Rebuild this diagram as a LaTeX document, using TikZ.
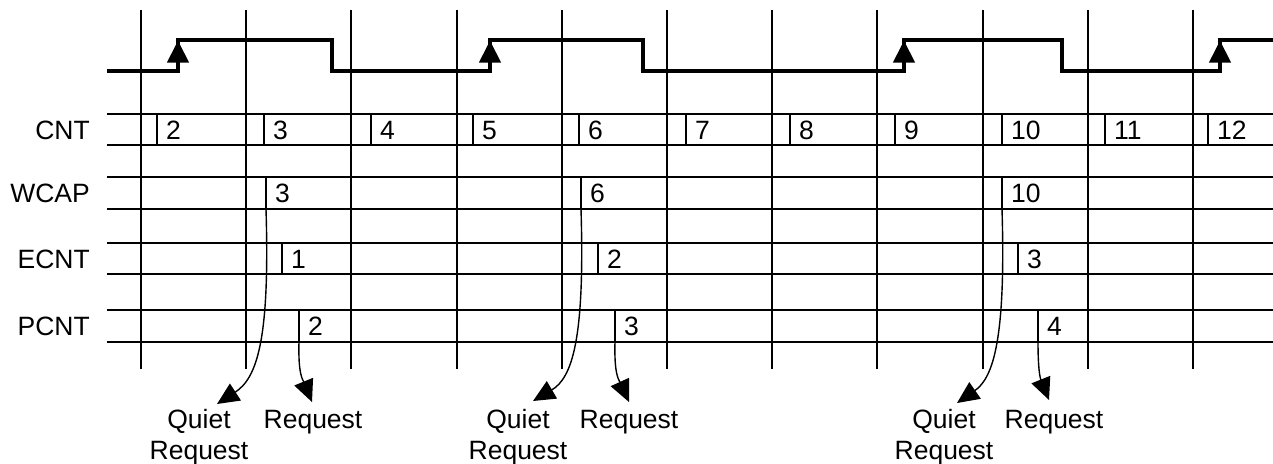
\documentclass[tikz,border=0pt]{standalone}
\usepackage{fontspec}
\setmainfont{Liberation Sans}
\usetikzlibrary{arrows.meta,calc}
\begin{document}
\begin{tikzpicture}[x=1pt,y=-1pt,
  gridline/.style={line width=2pt},
  wave/.style={line width=4pt, line join=miter},
  clktip/.style={-{Triangle[length=22pt,width=21pt]}, line width=4pt},
  sepline/.style={line width=2pt},
  flow/.style={line width=1.4pt, -{Triangle[length=22pt,width=20pt]}},
  lbl/.style={font=\fontsize{26.5}{31}\selectfont, inner sep=0pt},
]
\useasboundingbox (0,0) rectangle (1273,463);
% clock grid
\foreach \k in {0,...,10}
  \draw[gridline] ({141+105.2*\k},10) -- ({141+105.2*\k},369);
% bus row lines
\foreach \y in {114,145,177,209,243,274,310,342}
  \draw[gridline] (107,\y) -- (1273,\y);
% clock waveform
\draw[wave] (107,71) -- (178,71) -- (178,40) -- (332,40) -- (332,71) -- (490,71)
  -- (490,40) -- (643,40) -- (643,71) -- (904,71) -- (904,40) -- (1062,40)
  -- (1062,71) -- (1220,71) -- (1220,40) -- (1273,40);
\foreach \x in {178,490,904,1220}
  \draw[clktip] (\x,71) -- (\x,40.5);
% row labels
\node[lbl, anchor=base east] (lcnt) at (90,139.5) {CNT};
\node[lbl, anchor=base east] (lwcap) at (90,202.5) {WCAP};
\node[lbl, anchor=base east] (lecnt) at (90,268) {ECNT};
\node[lbl, anchor=base east] (lpcnt) at (90,335.5) {PCNT};
% CNT values
\foreach \s/\n in {157/2,264/3,371/4,473/5,579/6,686/7,790/8,895/9,1002/10,1105/11,1208/12} {
  \draw[sepline] (\s,114) -- (\s,145);
  \node[lbl, anchor=base west] (cnt\n) at (\s+9,139.5) {\n};
}
% WCAP values
\foreach \s/\n [count=\i] in {266/3,581/6,1002/10} {
  \draw[sepline] (\s,177) -- (\s,209);
  \coordinate (wc\i) at (\s,209);
  \node[lbl, anchor=base west] (wcap\i) at (\s+9,202.5) {\n};
}
% ECNT values
\foreach \s/\n [count=\i] in {282/1,598/2,1018/3} {
  \draw[sepline] (\s,243) -- (\s,274);
  \node[lbl, anchor=base west] (ecnt\i) at (\s+9,268) {\n};
}
% PCNT values
\foreach \s/\n [count=\i] in {299/2,615/3,1038/4} {
  \draw[sepline] (\s,310) -- (\s,342);
  \coordinate (pc\i) at (\s,342);
  \node[lbl, anchor=base west] (pcnt\i) at (\s+9,335.5) {\n};
}
% bottom labels
\node[lbl, align=center, anchor=north] (qr1) at (199,409) {Quiet\\Request};
\node[lbl, anchor=base] (rq1) at (313,428) {Request};
\node[lbl, align=center, anchor=north] (qr2) at (518,409) {Quiet\\Request};
\node[lbl, anchor=base] (rq2) at (629,428) {Request};
\node[lbl, align=center, anchor=north] (qr3) at (944,409) {Quiet\\Request};
\node[lbl, anchor=base] (rq3) at (1054,428) {Request};
% arrow end points
\coordinate (qt1) at (217,404);
\coordinate (qt2) at (533,401);
\coordinate (qt3) at (957,403);
\coordinate (rt1) at (312,402);
\coordinate (rt2) at (629,402);
\coordinate (rt3) at (1049,400);
% quiet request curves
\draw[flow] (wc1) .. controls ($(wc1)+(4,131)$) and ($(wc1)+(-9,169)$) .. (qt1);
\draw[flow] (wc2) .. controls ($(wc2)+(4,131)$) and ($(wc2)+(-9,169)$) .. (qt2);
\draw[flow] (wc3) .. controls ($(wc3)+(4,131)$) and ($(wc3)+(-9,169)$) .. (qt3);
% request curves
\draw[flow] (pc1) .. controls ($(pc1)+(-1,33)$) and ($(pc1)+(4,38)$) .. (rt1);
\draw[flow] (pc2) .. controls ($(pc2)+(-1,33)$) and ($(pc2)+(4,38)$) .. (rt2);
\draw[flow] (pc3) .. controls ($(pc3)+(0,33)$) and ($(pc3)+(3,38)$) .. (rt3);
\end{tikzpicture}
\end{document}
